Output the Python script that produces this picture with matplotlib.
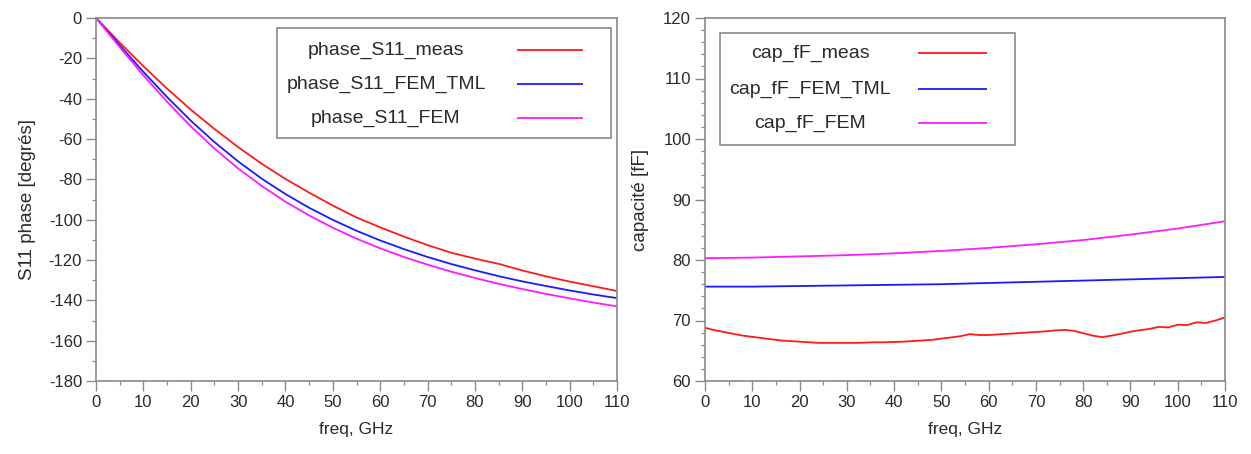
import matplotlib
matplotlib.use("Agg")
import matplotlib.pyplot as plt
from matplotlib.patches import Rectangle
from matplotlib.ticker import MultipleLocator

plt.rcParams['font.family'] = ['Liberation Sans', 'DejaVu Sans']
plt.rcParams['axes.unicode_minus'] = False

# ---------------- data ----------------
freq_phase = [0, 5, 10, 15, 20, 25, 30, 35, 40, 45, 50, 55, 60, 65, 70, 75, 80, 85, 90, 95, 100, 105, 110]
phase_S11_meas = [0, -12.2, -23.9, -35.0, -45.4, -55.0, -64.0, -72.3, -79.8, -86.6, -93.0, -98.9,
                  -103.8, -108.4, -112.6, -116.4, -119.3, -121.9, -125.2, -128.1, -130.7, -133.0, -135.4]
phase_S11_FEM_TML = [0, -13.5, -26.7, -39.2, -50.9, -61.5, -71.1, -79.7, -87.3, -94.1, -100.1, -105.5,
                     -110.3, -114.6, -118.5, -122.0, -125.1, -128.0, -130.6, -132.9, -135.1, -137.1, -138.9]
phase_S11_FEM = [0, -14.4, -28.4, -41.5, -53.7, -64.7, -74.6, -83.3, -91.1, -97.9, -104.0, -109.4,
                 -114.2, -118.5, -122.3, -125.8, -128.9, -131.8, -134.4, -136.8, -139.0, -141.1, -143.0]

freq_cap = [0, 2, 4, 6, 8, 10, 12, 14, 16, 18, 20, 22, 24, 26, 28, 30, 32, 34, 36, 38, 40, 42, 44, 46, 48,
            50, 52, 54, 56, 58, 60, 62, 64, 66, 68, 70, 72, 74, 76, 78, 80, 82, 84, 86, 88, 90, 92, 94,
            96, 98, 100, 102, 104, 106, 108, 110]
cap_fF_meas = [68.8, 68.4, 68.1, 67.8, 67.5, 67.3, 67.1, 66.9, 66.7, 66.6, 66.5, 66.4, 66.3, 66.3, 66.3,
               66.3, 66.3, 66.35, 66.4, 66.4, 66.45, 66.5, 66.6, 66.7, 66.8, 67.0, 67.2, 67.4, 67.75, 67.6,
               67.6, 67.7, 67.8, 67.9, 68.0, 68.1, 68.2, 68.35, 68.45, 68.3, 67.9, 67.5, 67.25, 67.5, 67.8,
               68.15, 68.4, 68.6, 68.95, 68.85, 69.3, 69.25, 69.7, 69.6, 70.0, 70.5]
freq_cap_sim = [0, 10, 20, 30, 40, 50, 60, 70, 80, 90, 100, 110]
cap_fF_FEM_TML = [75.6, 75.6, 75.7, 75.8, 75.9, 76.0, 76.2, 76.4, 76.6, 76.8, 77.0, 77.2]
cap_fF_FEM = [80.3, 80.4, 80.6, 80.8, 81.1, 81.5, 82.0, 82.6, 83.3, 84.2, 85.2, 86.4]

labels_left = ["phase_S11_meas", "phase_S11_FEM_TML", "phase_S11_FEM"]
labels_right = ["cap_fF_meas", "cap_fF_FEM_TML", "cap_fF_FEM"]
colors = ["#ff1a1a", "#1a1aff", "#ff1aff"]

W, H = 1251, 454
fig = plt.figure(figsize=(W / 100, H / 100), dpi=100)
fig.patch.set_facecolor("white")

def px_box(x0, x1, y0, y1):
    return [x0 / W, 1 - y1 / H, (x1 - x0) / W, (y1 - y0) / H]

ax1 = fig.add_axes(px_box(96, 617, 18, 381))
ax2 = fig.add_axes(px_box(705, 1225, 18, 381))

spine_c = "#8a8a8a"
txt_c = "#2a2a2a"

def style(ax, ymin, ymax, ymaj, ymin_step, ylabel, lpad):
    ax.set_xlim(0, 110)
    ax.set_ylim(ymin, ymax)
    ax.xaxis.set_major_locator(MultipleLocator(10))
    ax.xaxis.set_minor_locator(MultipleLocator(5))
    ax.yaxis.set_major_locator(MultipleLocator(ymaj))
    ax.yaxis.set_minor_locator(MultipleLocator(ymin_step))
    for s in ax.spines.values():
        s.set_color(spine_c)
        s.set_linewidth(1.2)
    ax.tick_params(which="major", direction="out", length=7, width=1.0, color=spine_c,
                   labelsize=12, labelcolor=txt_c, pad=3)
    ax.tick_params(which="minor", direction="out", length=3, width=0.9, color=spine_c)
    ax.tick_params(top=False, right=False, which="both")
    ax.set_xlabel("freq, GHz", fontsize=12.5, color=txt_c, labelpad=9)
    ax.set_ylabel(ylabel, fontsize=13.5, color=txt_c, labelpad=lpad)

style(ax1, -180, 0, 20, 10, "S11 phase [degrés]", 9)
style(ax2, 60, 120, 10, 2, "capacité [fF]", 10)

lw = 1.3
ax1.plot(freq_phase, phase_S11_meas, color=colors[0], lw=lw)
ax1.plot(freq_phase, phase_S11_FEM_TML, color=colors[1], lw=lw)
ax1.plot(freq_phase, phase_S11_FEM, color=colors[2], lw=lw)

ax2.plot(freq_cap, cap_fF_meas, color=colors[0], lw=lw)
ax2.plot(freq_cap_sim, cap_fF_FEM_TML, color=colors[1], lw=lw)
ax2.plot(freq_cap_sim, cap_fF_FEM, color=colors[2], lw=lw)

def legend_box(ax, ax_px, box, rows_y, text_cx, line_x, labels):
    ax_x0, ax_x1, ax_y0, ax_y1 = ax_px
    def fx(x):
        return (x - ax_x0) / (ax_x1 - ax_x0)
    def fy(y):
        return 1 - (y - ax_y0) / (ax_y1 - ax_y0)
    bx0, bx1, by0, by1 = box
    ax.add_patch(Rectangle((fx(bx0), fy(by1)), fx(bx1) - fx(bx0), fy(by0) - fy(by1),
                           transform=ax.transAxes, fill=True, facecolor="white",
                           edgecolor=spine_c, lw=1.2, zorder=5))
    for lab, c, yy in zip(labels, colors, rows_y):
        ax.text(fx(text_cx), fy(yy), lab, transform=ax.transAxes, ha="center", va="center",
                fontsize=14, color=txt_c, zorder=6)
        ax.plot([fx(line_x[0]), fx(line_x[1])], [fy(yy), fy(yy)], transform=ax.transAxes,
                color=c, lw=1.3, zorder=6, solid_capstyle="butt")

legend_box(ax1, (96, 617, 18, 381), (277, 611, 28, 138), (50, 84, 118), 386, (517, 583), labels_left)
legend_box(ax2, (705, 1225, 18, 381), (720, 1015, 33, 145), (53, 89, 123), 810, (918, 987), labels_right)

fig.savefig("out.png", dpi=100, facecolor="white")
